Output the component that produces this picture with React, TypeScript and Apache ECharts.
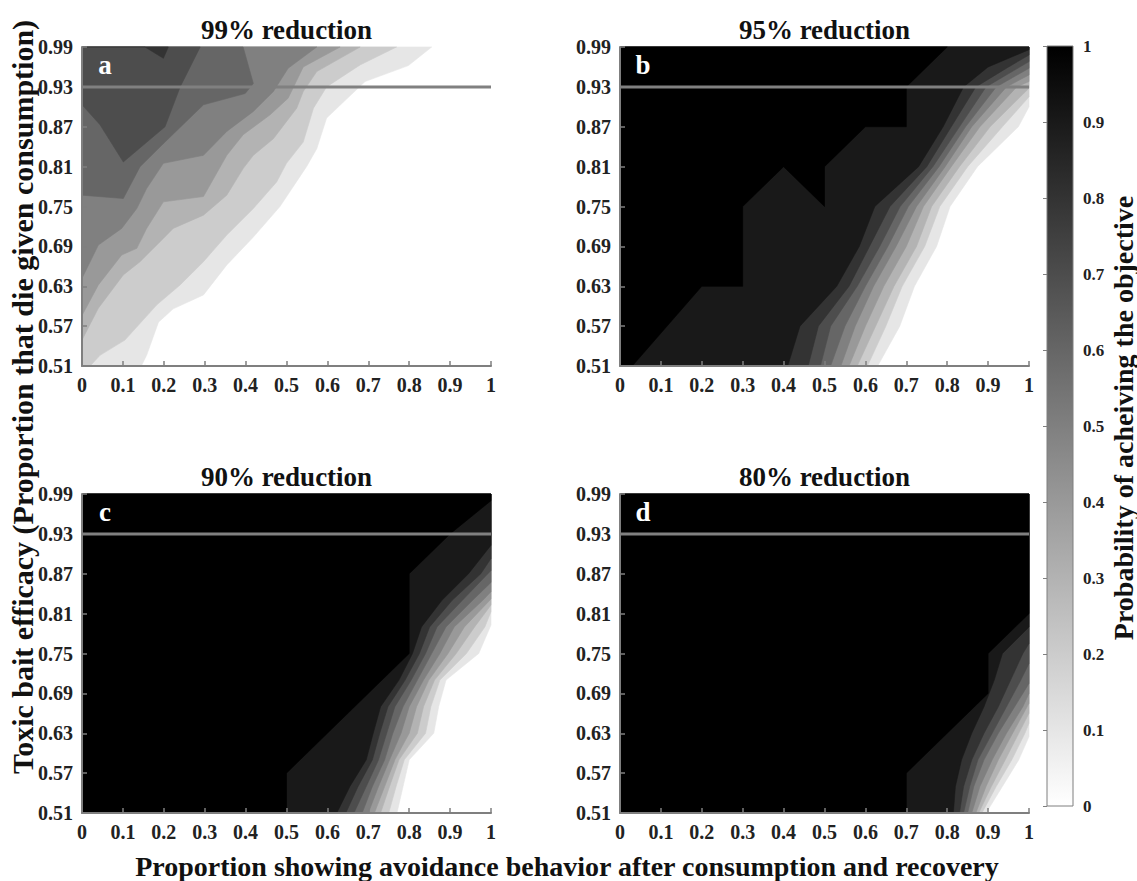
import React, { useEffect, useRef } from "react";
import * as echarts from "echarts";

// ---------------- axes & labels ----------------
const X_MIN = 0;
const X_MAX = 1;
const X_STEP = 0.1;
const Y_MIN = 0.51;
const Y_MAX = 0.99;
const Y_STEP = 0.06;
const LEVELS = [0.1, 0.2, 0.3, 0.4, 0.5, 0.6, 0.7, 0.8, 0.9, 1.0];
const THRESHOLD = 0.93;
const PANEL_TITLES = ["99% reduction", "95% reduction", "90% reduction", "80% reduction"];
const PANEL_LETTERS = ["a", "b", "c", "d"];
const X_TITLE = "Proportion showing avoidance behavior after consumption and recovery";
const Y_TITLE = "Toxic bait efficacy (Proportion that die given consumption)";
const CB_TITLE = "Probability of acheiving the objective";

// ---------------- panel a: contour lines [x, y] (level 0.1 ... 0.8) ----------------
const a01 = [[0.145, 0.51], [0.158, 0.526], [0.187, 0.576], [0.223, 0.596], [0.297, 0.617], [0.354, 0.662], [0.419, 0.704], [0.484, 0.75], [0.549, 0.81], [0.574, 0.837], [0.598, 0.883], [0.692, 0.938], [0.798, 0.962], [0.855, 0.99]];
const a02 = [[0.02, 0.51], [0.044, 0.526], [0.105, 0.549], [0.183, 0.602], [0.24, 0.632], [0.297, 0.667], [0.354, 0.707], [0.419, 0.747], [0.476, 0.787], [0.5, 0.815], [0.541, 0.847], [0.566, 0.898], [0.598, 0.93], [0.68, 0.963], [0.769, 0.99]];
const a03 = [[0, 0.549], [0.04, 0.597], [0.101, 0.647], [0.142, 0.667], [0.199, 0.702], [0.223, 0.717], [0.297, 0.737], [0.354, 0.767], [0.394, 0.807], [0.419, 0.827], [0.468, 0.852], [0.525, 0.898], [0.541, 0.923], [0.574, 0.953], [0.68, 0.99]];
const a04 = [[0, 0.586], [0.04, 0.632], [0.097, 0.677], [0.134, 0.687], [0.158, 0.717], [0.199, 0.757], [0.297, 0.765], [0.354, 0.827], [0.394, 0.858], [0.46, 0.888], [0.504, 0.913], [0.541, 0.96], [0.631, 0.99]];
const a05 = [[0, 0.642], [0.04, 0.692], [0.097, 0.717], [0.134, 0.747], [0.158, 0.777], [0.199, 0.815], [0.297, 0.827], [0.354, 0.863], [0.419, 0.893], [0.468, 0.923], [0.504, 0.958], [0.574, 0.99]];
const a06 = [[0, 0.767], [0.101, 0.762], [0.142, 0.81], [0.203, 0.847], [0.297, 0.903], [0.399, 0.92], [0.419, 0.935], [0.394, 0.99]];
const a07 = [[0, 0.903], [0.044, 0.873], [0.101, 0.817], [0.203, 0.87], [0.24, 0.93], [0.289, 0.99]];
const a08 = [[0.154, 0.99], [0.199, 0.973], [0.211, 0.99]];

// ---------------- panel b: contour x at rows (level 0.1 ... 0.9), right-edge crossing ----------------
const rowsB = [0.51, 0.57, 0.63, 0.69, 0.75, 0.81, 0.87, 0.93, 0.96];
const b01 = [0.63, 0.684, 0.72, 0.774, 0.807, 0.874, 0.974, null, null];
const b02 = [0.605, 0.65, 0.69, 0.745, 0.782, 0.85, 0.935, null, null];
const b03 = [0.58, 0.625, 0.67, 0.725, 0.762, 0.83, 0.905, null, null];
const b04 = [0.56, 0.6, 0.645, 0.7, 0.742, 0.81, 0.88, 0.97, null];
const b05 = [0.54, 0.575, 0.62, 0.675, 0.725, 0.795, 0.86, 0.945, null];
const b06 = [0.515, 0.55, 0.6, 0.655, 0.705, 0.78, 0.845, 0.92, null];
const b07 = [0.49, 0.515, 0.58, 0.635, 0.685, 0.765, 0.83, 0.895, null];
const b08 = [0.46, 0.485, 0.56, 0.61, 0.66, 0.75, 0.81, 0.87, 0.95];
const b09 = [0.41, 0.44, 0.53, 0.585, 0.623, 0.73, 0.79, 0.84, 0.9];
const rightB = [0.9, 0.915, 0.928, 0.938, 0.948, 0.958, 0.968, 0.978, 0.986];
const b10 = [[0.03, 0.51], [0.2, 0.63], [0.3, 0.63], [0.3, 0.75], [0.4, 0.81], [0.5, 0.75], [0.5, 0.81], [0.6, 0.87], [0.7, 0.87], [0.7, 0.93], [0.8, 0.99]];

// ---------------- panel c ----------------
const rowsC = [0.51, 0.55, 0.59, 0.63, 0.67, 0.71, 0.75, 0.79, 0.83, 0.87];
const c01 = [0.77, 0.785, 0.8, 0.86, 0.872, 0.89, 0.97, null, null, null];
const c02 = [0.75, 0.768, 0.788, 0.84, 0.853, 0.875, 0.94, 0.985, null, null];
const c03 = [0.73, 0.752, 0.775, 0.82, 0.835, 0.862, 0.915, 0.96, null, null];
const c04 = [0.715, 0.74, 0.765, 0.8, 0.818, 0.848, 0.895, 0.935, null, null];
const c05 = [0.7, 0.725, 0.752, 0.78, 0.8, 0.835, 0.875, 0.91, 0.98, null];
const c06 = [0.685, 0.71, 0.74, 0.76, 0.785, 0.82, 0.855, 0.89, 0.955, null];
const c07 = [0.665, 0.695, 0.725, 0.745, 0.765, 0.805, 0.84, 0.868, 0.93, null];
const c08 = [0.645, 0.675, 0.71, 0.728, 0.748, 0.79, 0.825, 0.85, 0.905, 0.975];
const c09 = [0.623, 0.655, 0.695, 0.712, 0.73, 0.775, 0.808, 0.83, 0.88, 0.945];
const rightC = [0.793, 0.813, 0.823, 0.832, 0.843, 0.857, 0.875, 0.893, 0.913];
const c10 = [[0.5, 0.51], [0.5, 0.57], [0.8, 0.75], [0.8, 0.87], [0.9, 0.93], [1, 0.98]];

// ---------------- panel d ----------------
const rowsD = [0.51, 0.55, 0.59, 0.63, 0.67, 0.71, 0.75];
const d01 = [0.895, 0.935, 0.975, null, null, null, null];
const d02 = [0.885, 0.92, 0.958, 0.99, null, null, null];
const d03 = [0.877, 0.908, 0.942, 0.975, null, null, null];
const d04 = [0.87, 0.895, 0.925, 0.96, null, null, null];
const d05 = [0.86, 0.88, 0.91, 0.945, 0.985, null, null];
const d06 = [0.85, 0.865, 0.89, 0.925, 0.965, null, null];
const d07 = [0.84, 0.855, 0.875, 0.91, 0.945, 0.98, null];
const d08 = [0.83, 0.84, 0.86, 0.89, 0.925, 0.955, 0.985];
const d09 = [0.815, 0.82, 0.835, 0.86, 0.89, 0.915, 0.935];
const rightD = [0.625, 0.645, 0.66, 0.675, 0.69, 0.705, 0.735, 0.765, 0.79];
const d10 = [[0.7, 0.51], [0.7, 0.57], [0.9, 0.69], [0.9, 0.75], [1, 0.81]];

// ---------------- helpers ----------------
const FONT = '"Liberation Serif", "Times New Roman", serif';
const AXIS_COLOR = "#7f7f7f";

function rowContour(rows: number[], xs: (number | null)[], rightY: number): number[][] {
  const pts: number[][] = [];
  rows.forEach((y, i) => {
    const x = xs[i];
    if (x !== null && x !== undefined) pts.push([x, y]);
  });
  pts.push([1, rightY]);
  return pts;
}

function closeRegion(contour: number[][]): number[][] {
  const pts: number[][] = [];
  if (contour[0][1] === Y_MIN) pts.push([0, Y_MIN]);
  contour.forEach((p) => pts.push(p));
  const last = contour[contour.length - 1];
  if (last[0] === 1) pts.push([1, Y_MAX]);
  pts.push([0, Y_MAX]);
  return pts;
}

function grayOf(level: number): string {
  const v = Math.round((1 - level) * 255);
  return `rgb(${v},${v},${v})`;
}

type Region = { level: number; pts: number[][] };

function panelRegions(contours: number[][][]): Region[] {
  return contours.map((c, i) => ({ level: LEVELS[i], pts: closeRegion(c) }));
}

const contoursA = [a01, a02, a03, a04, a05, a06, a07, a08];
const contoursB = [b01, b02, b03, b04, b05, b06, b07, b08, b09].map((xs, i) => rowContour(rowsB, xs, rightB[i])).concat([b10]);
const contoursC = [c01, c02, c03, c04, c05, c06, c07, c08, c09].map((xs, i) => rowContour(rowsC, xs, rightC[i])).concat([c10]);
const contoursD = [d01, d02, d03, d04, d05, d06, d07, d08, d09].map((xs, i) => rowContour(rowsD, xs, rightD[i])).concat([d10]);

const PANELS = [contoursA, contoursB, contoursC, contoursD].map(panelRegions);

const GRIDS = [
  { left: 82, top: 47, width: 409, height: 319 },
  { left: 620, top: 47, width: 409, height: 319 },
  { left: 82, top: 494, width: 409, height: 319 },
  { left: 620, top: 494, width: 409, height: 319 },
];
const CB_GRID = { left: 1047, top: 46, width: 26, height: 760 };

function fmt1(v: number): string {
  return String(Math.round(v * 10) / 10);
}

export default function App() {
  const ref = useRef<HTMLDivElement>(null);

  useEffect(() => {
    if (!ref.current) return;
    const chart = echarts.init(ref.current, undefined, { renderer: "svg" });

    const labelStyle = {
      fontFamily: FONT,
      fontWeight: "bold" as const,
      fontSize: 20,
      color: "#222",
    };

    const xAxes: any[] = GRIDS.map((_, i) => ({
      gridIndex: i,
      type: "value",
      min: X_MIN,
      max: X_MAX,
      interval: X_STEP,
      z: 5,
      axisLine: { show: true, onZero: false, lineStyle: { color: AXIS_COLOR, width: 2 } },
      axisTick: { show: true, inside: true, length: 5, lineStyle: { color: AXIS_COLOR, width: 1.5 } },
      axisLabel: { ...labelStyle, margin: 9, formatter: (v: number) => fmt1(v) },
      splitLine: { show: false },
    }));
    const yAxes: any[] = GRIDS.map((_, i) => ({
      gridIndex: i,
      type: "value",
      min: 0,
      max: Y_MAX - Y_MIN,
      interval: Y_STEP,
      z: 5,
      axisLine: { show: true, onZero: false, lineStyle: { color: AXIS_COLOR, width: 2 } },
      axisTick: { show: true, inside: true, length: 5, lineStyle: { color: AXIS_COLOR, width: 1.5 } },
      axisLabel: { ...labelStyle, margin: 9, formatter: (v: number) => (v + Y_MIN).toFixed(2) },
      splitLine: { show: false },
    }));

    // colorbar axes
    xAxes.push({ gridIndex: 4, type: "value", min: 0, max: 1, show: false });
    yAxes.push({
      gridIndex: 4,
      type: "value",
      min: 0,
      max: 1,
      interval: 0.1,
      position: "right",
      z: 5,
      axisLine: { show: false },
      axisTick: { show: true, inside: true, length: 4, lineStyle: { color: AXIS_COLOR, width: 1 } },
      axisLabel: { ...labelStyle, fontSize: 17, margin: 10, formatter: (v: number) => fmt1(v) },
      splitLine: { show: false },
    });

    const series: any[] = [];
    PANELS.forEach((regions, i) => {
      series.push({
        type: "custom",
        xAxisIndex: i,
        yAxisIndex: i,
        silent: true,
        z: 1,
        data: regions.map((_, k) => [0.5, 0.2, k]),
        renderItem: (params: any, api: any) => {
          const r = regions[params.dataIndex];
          const color = grayOf(r.level);
          return {
            type: "polygon",
            shape: { points: r.pts.map((p) => api.coord([p[0], p[1] - Y_MIN])) },
            style: { fill: color, stroke: color, lineWidth: 0.6 },
          };
        },
      });
      series.push({
        type: "line",
        xAxisIndex: i,
        yAxisIndex: i,
        silent: true,
        z: 4,
        symbol: "none",
        data: [
          [X_MIN, THRESHOLD - Y_MIN],
          [X_MAX, THRESHOLD - Y_MIN],
        ],
        lineStyle: { color: "#808080", width: 3 },
      });
    });

    // colorbar
    series.push({
      type: "custom",
      xAxisIndex: 4,
      yAxisIndex: 4,
      silent: true,
      z: 1,
      data: [[0, 0]],
      renderItem: (_params: any, api: any) => {
        const p0 = api.coord([0, 0]);
        const p1 = api.coord([1, 1]);
        return {
          type: "rect",
          shape: { x: p0[0], y: p1[1], width: p1[0] - p0[0], height: p0[1] - p1[1] },
          style: {
            fill: new echarts.graphic.LinearGradient(0, 0, 0, 1, [
              { offset: 0, color: "#000000" },
              { offset: 1, color: "#ffffff" },
            ]),
            stroke: AXIS_COLOR,
            lineWidth: 1,
          },
        };
      },
    });

    const graphics: any[] = [];
    GRIDS.forEach((g, i) => {
      graphics.push({
        type: "text",
        x: g.left + g.width / 2,
        y: g.top - 17,
        z: 100,
        style: {
          text: PANEL_TITLES[i],
          font: `bold 27px ${FONT}`,
          fill: "#111",
          textAlign: "center",
          textVerticalAlign: "middle",
        },
      });
      graphics.push({
        type: "text",
        x: g.left + 23,
        y: g.top + 18,
        z: 100,
        style: {
          text: PANEL_LETTERS[i],
          font: `bold 27px ${FONT}`,
          fill: "#ffffff",
          textAlign: "center",
          textVerticalAlign: "middle",
        },
      });
    });
    graphics.push({
      type: "text",
      x: 567,
      y: 866,
      z: 100,
      style: { text: X_TITLE, font: `bold 28px ${FONT}`, fill: "#111", textAlign: "center", textVerticalAlign: "middle" },
    });
    graphics.push({
      type: "text",
      x: 22,
      y: 397,
      rotation: Math.PI / 2,
      z: 100,
      style: { text: Y_TITLE, font: `bold 30px ${FONT}`, fill: "#111", textAlign: "center", textVerticalAlign: "middle" },
    });
    graphics.push({
      type: "text",
      x: 1123,
      y: 418,
      rotation: Math.PI / 2,
      z: 100,
      style: { text: CB_TITLE, font: `bold 28px ${FONT}`, fill: "#111", textAlign: "center", textVerticalAlign: "middle" },
    });

    chart.setOption({
      animation: false,
      backgroundColor: "#ffffff",
      grid: [...GRIDS, CB_GRID].map((g) => ({ ...g, containLabel: false })),
      xAxis: xAxes,
      yAxis: yAxes,
      series,
      graphic: graphics,
    });

    return () => chart.dispose();
  }, []);

  return (
    <div
      ref={ref}
      style={{ position: "fixed", left: 0, top: 0, width: 1137, height: 881, background: "#fff" }}
    />
  );
}
